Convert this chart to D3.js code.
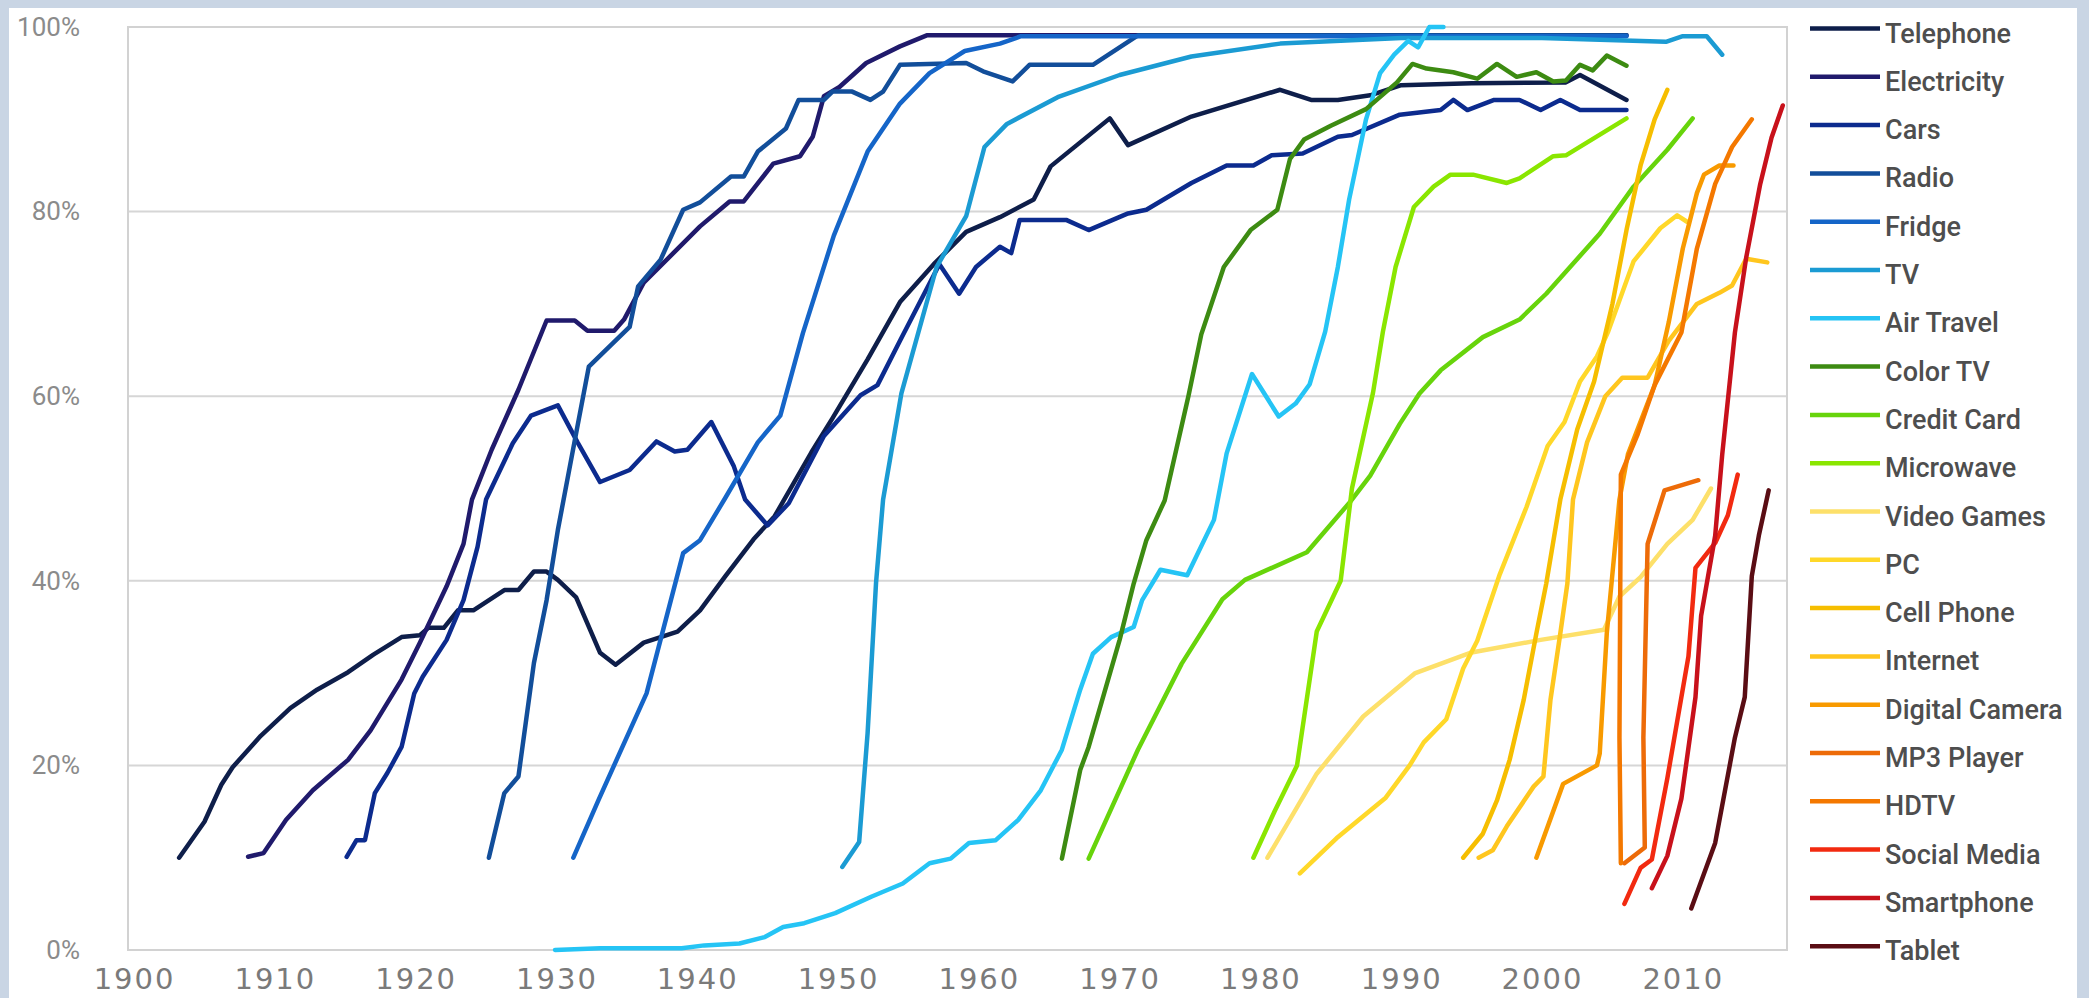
<!DOCTYPE html>
<html>
<head>
<meta charset="utf-8">
<script src="https://d3js.org/d3.v7.min.js"></script>
<style>
  body { margin:0; background:#c9d5e4; }
  svg { display:block; }
</style>
</head>
<body>
<script>
// share of US households using each technology, [year, percent]
var products = ["Telephone", "Electricity", "Cars", "Radio", "Fridge", "TV", "Air Travel",
  "Color TV", "Credit Card", "Microwave", "Video Games", "PC", "Cell Phone", "Internet",
  "Digital Camera", "MP3 Player", "HDTV", "Social Media", "Smartphone", "Tablet"];
var percentTicks = [0, 20, 40, 60, 80, 100];
var yearTicks = [1900, 1910, 1920, 1930, 1940, 1950, 1960, 1970, 1980, 1990, 2000, 2010];

var telephone = [[1903.2,10],[1905,13.9],[1906.2,17.9],[1907,19.8],[1909,23.2],[1911.1,26.2],[1913,28.2],[1915.2,30.1],[1917,32],[1919,33.9],[1920.3,34.1],[1920.9,34.9],[1922,34.9],[1923,36.8],[1924.1,36.8],[1926.3,39],[1927.3,39],[1928.4,41],[1929.3,41],[1930.1,40.1],[1931.4,38.2],[1933.1,32.2],[1934.2,30.9],[1936.2,33.3],[1937.4,33.9],[1938.6,34.5],[1940.2,36.8],[1942,40.5],[1944,44.5],[1945.5,47],[1948.1,53.9],[1949.6,57.6],[1952.1,64],[1954.4,70.2],[1956.8,74.3],[1959.1,77.8],[1961.5,79.4],[1963.9,81.3],[1965.1,84.9],[1967.2,87.5],[1969.3,90.1],[1970.6,87.2],[1975.1,90.3],[1981.4,93.2],[1983.6,92.1],[1985.5,92.1],[1987.8,92.6],[1990,93.7],[1995,93.9],[2001.7,94],[2002.7,94.8],[2006,92.1]];
var electricity = [[1908.1,10.1],[1909.2,10.5],[1910.8,14.1],[1912.7,17.3],[1915.2,20.6],[1916.8,23.8],[1919,29.3],[1920.3,33.3],[1922.2,39.4],[1923.4,44],[1924,48.8],[1925.4,54.2],[1927.3,60.7],[1929.3,68.2],[1931.3,68.2],[1932.2,67.1],[1934.1,67.1],[1934.8,68.3],[1936.2,72.3],[1938.3,75.5],[1940.2,78.4],[1942.3,81.1],[1943.3,81.1],[1945.4,85.2],[1947.3,86],[1948.2,88.1],[1949,92.5],[1950.1,93.5],[1952,96.1],[1954.4,97.9],[1956.3,99.1],[2006,99.1]];
var cars = [[1915.1,10.1],[1915.8,11.9],[1916.4,11.9],[1917.1,17],[1918,19.2],[1919,22],[1919.9,27.8],[1920.5,29.6],[1922.2,33.6],[1923.4,37.9],[1924.4,43.7],[1925,48.8],[1926.9,54.9],[1928.2,57.9],[1930.1,59],[1931.5,55],[1933.1,50.7],[1935.2,52],[1937.1,55.1],[1938.4,54],[1939.3,54.2],[1941,57.2],[1942.6,52.4],[1943.4,48.8],[1945,46],[1946.5,48.4],[1949,55.7],[1951.6,60.1],[1952.8,61.2],[1954.4,66],[1957.2,74.3],[1958.6,71.1],[1959.8,74],[1961.5,76.2],[1962.3,75.5],[1962.9,79.1],[1966.2,79.1],[1967.8,78],[1970.6,79.8],[1971.9,80.2],[1975.1,83.1],[1977.6,85],[1979.5,85],[1980.8,86.1],[1983,86.3],[1985.5,88.1],[1986.5,88.3],[1989.9,90.5],[1992.8,91],[1993.7,92.1],[1994.7,91],[1996.6,92.1],[1998.4,92.1],[1999.9,91],[2001.3,92.1],[2002.7,91],[2006,91]];
var radio = [[1925.2,10],[1926.3,17],[1927.3,18.8],[1928.4,31.1],[1929.3,37.9],[1930.1,45.5],[1931.4,56],[1932.3,63.2],[1933.3,64.7],[1935.2,67.5],[1935.8,71.9],[1937.4,74.8],[1939,80.2],[1940.2,81],[1942.4,83.8],[1943.3,83.8],[1944.3,86.5],[1946.3,89],[1947.2,92.1],[1949,92.1],[1949.6,93],[1951,93],[1952.3,92.1],[1953.2,93],[1954.4,95.9],[1959.1,96.1],[1960.3,95.2],[1962.4,94.1],[1963.6,95.9],[1968.1,95.9],[1971.3,99.1],[2006,99.1]];
var fridge = [[1931.2,10],[1933,16.3],[1936.4,27.8],[1939,43],[1940.2,44.4],[1942,49],[1944.3,55],[1945.9,57.9],[1947.5,66.8],[1949.7,77.4],[1952.1,86.5],[1954.4,91.7],[1956.5,95],[1959,97.4],[1961.5,98.2],[1963,99],[2006,99]];
var tv = [[1950.3,9],[1951.5,11.7],[1952.1,23.5],[1952.7,39.8],[1953.2,48.8],[1954.5,60.3],[1957,74],[1959.1,79.5],[1960.4,87],[1962,89.5],[1965.6,92.4],[1970,94.8],[1975.1,96.8],[1981.4,98.2],[1990,98.8],[2000,98.8],[2008.8,98.4],[2010,99],[2011.7,99],[2012.8,97]];
var airTravel = [[1929.9,0],[1933.1,0.2],[1938.9,0.2],[1940.5,0.5],[1943,0.7],[1944.8,1.4],[1946.1,2.5],[1947.6,2.9],[1949.8,4],[1952.4,5.8],[1954.6,7.2],[1956.5,9.4],[1958,9.9],[1959.3,11.6],[1961.2,11.9],[1962.8,14.1],[1964.4,17.3],[1965.9,21.7],[1967.2,28.2],[1968.1,32.1],[1969.4,33.9],[1971,35],[1971.6,37.9],[1972.9,41.2],[1974.8,40.6],[1976.7,46.6],[1977.6,53.8],[1979.4,62.4],[1981.3,57.8],[1982.5,59.2],[1983.5,61.3],[1984.6,67],[1985.5,74],[1986.3,81.3],[1987.5,90],[1988.5,95],[1989.5,97],[1990.5,98.5],[1991.2,97.8],[1992,100],[1993,100]];
var colorTv = [[1965.9,9.9],[1967.2,19.5],[1967.8,22],[1968.9,27.8],[1970,33.6],[1971,39.7],[1971.9,44.4],[1973.2,48.7],[1974.9,60.1],[1975.8,66.7],[1977.4,74],[1979.3,78],[1981.2,80.2],[1982.1,85.7],[1983.1,87.8],[1985,89.3],[1987.5,91.1],[1989.7,94],[1990.8,96],[1991.8,95.5],[1993.7,95.1],[1995.4,94.4],[1996.8,96],[1998.2,94.6],[1999.6,95.1],[2000.8,94.1],[2001.7,94.2],[2002.7,95.9],[2003.6,95.3],[2004.6,96.9],[2006,95.8]];
var creditCard = [[1967.8,9.9],[1971.3,21.7],[1974.4,31],[1977.3,38],[1978.9,40.1],[1983.3,43.1],[1986.4,48.6],[1987.8,51.4],[1989.9,57],[1991.3,60.3],[1992.8,62.8],[1995.8,66.4],[1998.4,68.3],[2000.3,71.1],[2004.1,77.6],[2006.5,82.7],[2008.9,86.7],[2010.7,90.1]];
var microwave = [[1979.5,10],[1981,15],[1982.6,20],[1984,34.5],[1985.7,40],[1986.5,50],[1988,60.4],[1988.7,67],[1989.6,74],[1990.9,80.5],[1992.3,82.7],[1993.5,84],[1995.1,84],[1997.5,83.1],[1998.4,83.6],[2000.8,86],[2001.7,86.1],[2006,90.1]];
var videoGames = [[1980.5,10],[1984,19.1],[1987.3,25.3],[1991,30],[1994.9,32.2],[1999.9,33.6],[2004.4,34.7],[2005.5,38.3],[2007,40.4],[2008.9,44],[2010.7,46.6],[2012,50]];
var pc = [[1982.8,8.3],[1985.4,12.1],[1988.9,16.5],[1990.6,20],[1991.6,22.5],[1993.2,25],[1994.4,30.5],[1995.4,33.5],[1997,40.7],[1998.9,48],[2000.4,54.6],[2001.6,57.2],[2002.7,61.6],[2003.9,64.3],[2004.7,67],[2006.5,74.6],[2008.4,78.2],[2009.6,79.6],[2010.3,78.9]];
var cellPhone = [[1994.4,10],[1995.8,12.6],[1996.8,16.2],[1997.7,20.6],[1998.7,27.1],[1999.6,34.3],[2000.3,39.7],[2001.3,48.8],[2002.5,56.4],[2003.7,61.6],[2005,70],[2006,78],[2007,85],[2008,90],[2008.9,93.2]];
var internet = [[1995.5,10],[1996.5,10.8],[1997.5,13.4],[1999.4,17.7],[2000.1,18.8],[2000.6,27.1],[2001.3,34.3],[2001.8,39.7],[2002.2,48.8],[2003.2,55],[2004.5,60],[2005.7,62],[2007.5,62],[2009,66],[2011,70],[2012.6,71.2],[2013.5,72],[2014.5,74.9],[2016,74.5]];
var digitalCamera = [[1999.6,10],[2001.5,18],[2003.9,20],[2004.1,21.3],[2004.6,34.3],[2005.5,48.8],[2006.1,53.7],[2008,61.2],[2009,68],[2010,76],[2011,82],[2011.5,84],[2012.6,85],[2013.6,85]];
var mp3Player = [[2005.85,9.4],[2007.3,11.1],[2007.2,23],[2007.5,44],[2008.7,49.8],[2011.1,50.9]];
var hdtv = [[2005.6,9.4],[2005.5,23],[2005.6,51.5],[2006.8,55.9],[2008,61.2],[2009.9,66.9],[2011,76],[2012.3,83],[2013.5,87],[2014.9,90]];
var socialMedia = [[2005.85,5],[2007,8.9],[2007.8,9.8],[2008.9,18.6],[2010.4,31.8],[2010.9,41.4],[2012.3,44.1],[2013.2,47.1],[2013.9,51.5]];
var smartphone = [[2007.8,6.7],[2008.9,10.2],[2009.9,16.4],[2010.9,27.4],[2011.3,36.2],[2012.3,44.9],[2012.8,53.7],[2013.7,66.9],[2014.5,75],[2015.5,83],[2016.3,88],[2017.1,91.5]];
var tablet = [[2010.6,4.5],[2012.3,11.6],[2013.7,23],[2014.4,27.4],[2014.9,40.5],[2015.4,44.9],[2016.1,49.8]];

var series = [telephone, electricity, cars, radio, fridge, tv, airTravel, colorTv, creditCard,
  microwave, videoGames, pc, cellPhone, internet, digitalCamera, mp3Player, hdtv,
  socialMedia, smartphone, tablet];

var palette = ["#0e1e4a", "#201a6c", "#0c2b8e", "#124e9a", "#1565c8", "#1b9bd3", "#25c4f5",
  "#3d8b12", "#67d40b", "#8ae600", "#fde06a", "#ffd829", "#f6be00", "#ffc61e",
  "#f89a00", "#ed6b08", "#f47800", "#f22a10", "#c8111b", "#5a0d14"];

var width = 2089, height = 998;

var svg = d3.select("body").append("svg")
  .attr("width", width)
  .attr("height", height);

// light blue frame with white card
svg.append("rect").attr("width", width).attr("height", height).attr("fill", "#c9d5e4");
svg.append("rect").attr("x", 9).attr("y", 8).attr("width", 2068).attr("height", 990).attr("fill", "#ffffff");

var x = d3.scaleLinear().domain([1899.57, 2017.4]).range([128, 1787]);
var y = d3.scaleLinear().domain([0, 100]).range([950, 27]);

// gridlines
svg.append("g").selectAll("line")
  .data(percentTicks)
  .enter().append("line")
  .attr("x1", x.range()[0]).attr("x2", x.range()[1])
  .attr("y1", d => y(d)).attr("y2", d => y(d))
  .attr("stroke", "#d6d6d6")
  .attr("stroke-width", 2);

svg.append("rect")
  .attr("x", x.range()[0]).attr("y", y(100))
  .attr("width", x.range()[1] - x.range()[0])
  .attr("height", y(0) - y(100))
  .attr("fill", "none")
  .attr("stroke", "#d2d2d2")
  .attr("stroke-width", 2);

// axes
var yAxis = d3.axisLeft(y).tickValues(percentTicks).tickFormat(d => d + "%").tickSize(0).tickPadding(0);
var yg = svg.append("g").attr("transform", "translate(80,0)").call(yAxis);
yg.select(".domain").remove();
yg.selectAll("text")
  .attr("font-family", "Roboto, sans-serif")
  .attr("font-size", 26)
  .attr("fill", "#8b8b8b");

var xAxis = d3.axisBottom(x).tickValues(yearTicks).tickFormat(d3.format("d")).tickSize(0).tickPadding(18);
var xg = svg.append("g").attr("transform", "translate(0," + y(0) + ")").call(xAxis);
xg.select(".domain").remove();
xg.selectAll("text")
  .attr("font-family", "'DejaVu Sans', sans-serif")
  .attr("font-size", 29)
  .attr("letter-spacing", 2)
  .attr("fill", "#7a7a7a");

// adoption curves
var line = d3.line()
  .x(d => x(d[0]))
  .y(d => y(d[1]));

svg.append("g").selectAll("path")
  .data(series)
  .enter().append("path")
  .attr("d", line)
  .attr("fill", "none")
  .attr("stroke", (d, i) => palette[i])
  .attr("stroke-width", 4.5)
  .attr("stroke-linejoin", "round")
  .attr("stroke-linecap", "round");

// legend
var legend = svg.append("g").selectAll("g")
  .data(products)
  .enter().append("g")
  .attr("transform", (d, i) => "translate(1810," + (28.5 + i * 48.3) + ")");

legend.append("line")
  .attr("x1", 0).attr("x2", 70)
  .attr("stroke", (d, i) => palette[i])
  .attr("stroke-width", 4.5);

legend.append("text")
  .attr("x", 75)
  .attr("y", 14)
  .attr("font-family", "Roboto, sans-serif")
  .attr("font-weight", 500)
  .attr("font-size", 27)
  .attr("fill", "#4e4e4e")
  .text(d => d);
</script>
</body>
</html>
